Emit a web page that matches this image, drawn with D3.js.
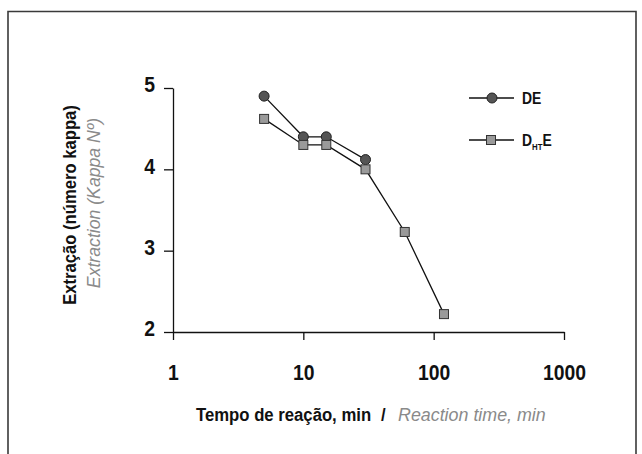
<!DOCTYPE html>
<html>
<head>
<meta charset="utf-8">
<script src="https://cdn.jsdelivr.net/npm/d3@7"></script>
<style>
  html, body { margin: 0; padding: 0; background: #fff; }
  svg { display: block; }
  text { font-family: "Liberation Sans", Arial, sans-serif; }
</style>
</head>
<body>
<svg id="chart" width="642" height="454"></svg>
<script>
// ---- data ----
const deTime = [5, 10, 15, 30];
const deKappa = [4.9, 4.4, 4.4, 4.12];
const dhteTime = [5, 10, 15, 30, 60, 120];
const dhteKappa = [4.62, 4.3, 4.3, 4.0, 3.23, 2.22];
const xTicks = [1, 10, 100, 1000];
const yTicks = [2, 3, 4, 5];
const seriesNames = ["DE", "DHTE"];

const svg = d3.select("#chart");

// condensed text helper
function ctext(parent, x0, y0, sx, rot) {
  return parent.append("text")
    .attr("transform", `translate(${x0},${y0})` + (rot ? ` rotate(${rot})` : "") + ` scale(${sx},1)`);
}

// frame
svg.append("path")
  .attr("d", "M8,454 L8,11.5 L636,11.5 L636,454")
  .attr("fill", "none").attr("stroke", "#3a3a3a").attr("stroke-width", 1.6);

const x = d3.scaleLog().domain([1, 1000]).range([173, 564]);
const y = d3.scaleLinear().domain([2, 5]).range([332, 88]);

// axes
const tsx = 0.88;
const xAxis = d3.axisBottom(x).tickValues(xTicks).tickFormat(d3.format("d")).tickSize(8).tickSizeOuter(0);
const gx = svg.append("g").attr("transform", "translate(0,332)").call(xAxis);
gx.select(".domain").attr("stroke", "#111").attr("stroke-width", 1.3);
gx.selectAll(".tick line").attr("stroke", "#111").attr("stroke-width", 1.3);
gx.selectAll(".tick text").attr("y", 32.5).attr("dy", "0.71em").attr("font-size", 22)
  .attr("font-weight", "bold").attr("fill", "#111").attr("transform", `scale(${tsx},1)`);

const yAxis = d3.axisLeft(y).tickValues(yTicks).tickFormat(d3.format("d")).tickSize(9).tickSizeOuter(0);
const gy = svg.append("g").attr("transform", "translate(173,0)").call(yAxis);
gy.select(".domain").attr("stroke", "#111").attr("stroke-width", 1.3);
gy.selectAll(".tick line").attr("stroke", "#111").attr("stroke-width", 1.3);
gy.selectAll(".tick text").attr("x", -18 / tsx).attr("dy", "0.18em").attr("font-size", 22)
  .attr("font-weight", "bold").attr("fill", "#111").attr("transform", `scale(${tsx},1)`);

// x-axis title
ctext(svg, 196, 421, 0.88).attr("font-size", 19).attr("font-weight", "bold").attr("fill", "#111")
  .text("Tempo de reação, min");
ctext(svg, 381, 421, 0.88).attr("font-size", 19).attr("font-weight", "bold").attr("fill", "#111")
  .text("/");
ctext(svg, 398, 421, 0.94).attr("font-size", 19).attr("font-style", "italic").attr("fill", "#8a8a8a")
  .text("Reaction time, min");

// y-axis title
ctext(svg, 76, 205, 0.925, -90).attr("text-anchor", "middle")
  .attr("font-size", 18).attr("font-weight", "bold").attr("fill", "#111").text("Extração (número kappa)");
ctext(svg, 100, 203, 0.93, -90).attr("text-anchor", "middle")
  .attr("font-size", 19).attr("font-style", "italic").attr("fill", "#8a8a8a").text("Extraction (Kappa Nº)");

// lines
const line = d3.line().x(d => x(d[0])).y(d => y(d[1]));
const deData = deTime.map((t, i) => [t, deKappa[i]]);
const dhteData = dhteTime.map((t, i) => [t, dhteKappa[i]]);

svg.append("path").datum(deData).attr("d", line).attr("fill", "none").attr("stroke", "#111").attr("stroke-width", 1.3);
svg.append("path").datum(dhteData).attr("d", line).attr("fill", "none").attr("stroke", "#111").attr("stroke-width", 1.3);

svg.selectAll("circle.de").data(deData).enter().append("circle")
  .attr("class", "de").attr("cx", d => x(d[0])).attr("cy", d => y(d[1])).attr("r", 5)
  .attr("fill", "#555").attr("stroke", "#222").attr("stroke-width", 1);

const sq = 9;
svg.selectAll("rect.dh").data(dhteData).enter().append("rect")
  .attr("class", "dh").attr("x", d => x(d[0]) - sq / 2).attr("y", d => y(d[1]) - sq / 2)
  .attr("width", sq).attr("height", sq)
  .attr("fill", "#9a9a9a").attr("stroke", "#333").attr("stroke-width", 1);

// legend
const lg = svg.append("g");
lg.append("line").attr("x1", 469).attr("x2", 514).attr("y1", 98).attr("y2", 98).attr("stroke", "#111").attr("stroke-width", 1.3);
lg.append("circle").attr("cx", 492).attr("cy", 98).attr("r", 5).attr("fill", "#555").attr("stroke", "#222");
ctext(lg, 522, 104, 0.87).attr("font-size", 16).attr("font-weight", "bold").attr("fill", "#111").text(seriesNames[0]);

lg.append("line").attr("x1", 469).attr("x2", 514).attr("y1", 140).attr("y2", 140).attr("stroke", "#111").attr("stroke-width", 1.3);
lg.append("rect").attr("x", 491 - sq / 2).attr("y", 140 - sq / 2).attr("width", sq).attr("height", sq).attr("fill", "#9a9a9a").attr("stroke", "#333");
const t2 = ctext(lg, 522, 146, 0.87).attr("font-size", 16).attr("font-weight", "bold").attr("fill", "#111");
t2.append("tspan").text("D");
t2.append("tspan").attr("font-size", 9).attr("dy", 4).text("HT");
t2.append("tspan").attr("dy", -4).text("E");
</script>
</body>
</html>
